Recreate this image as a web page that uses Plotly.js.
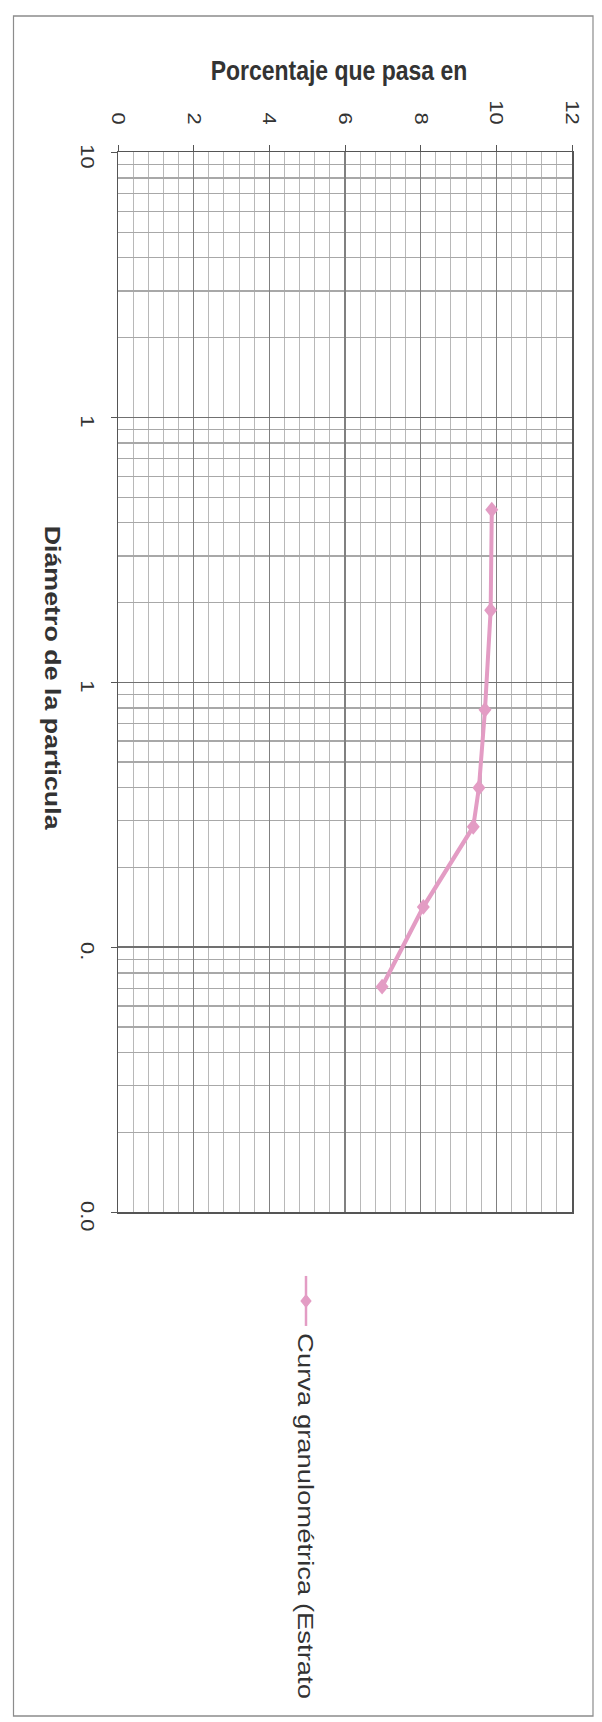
<!DOCTYPE html>
<html>
<head>
<meta charset="utf-8">
<script src="https://cdn.plot.ly/plotly-3.0.1.min.js"></script>
<style>
html,body{margin:0;padding:0;background:#ffffff;}
#wrap{width:602px;height:1722px;overflow:hidden;background:#ffffff;}
#chart{width:602px;height:1412px;transform:scaleY(1.2195);transform-origin:0 0;}
</style>
</head>
<body>
<div id="wrap"><div id="chart"></div></div>
<script>
// ---- data ----
const diameters      = [0.448, 0.187, 0.0787, 0.0400, 0.0285, 0.0142, 0.0071];
const percentPassing = [98.8, 98.5, 97.0, 95.4, 93.9, 80.7, 69.8];
const seriesName     = 'Curva granulométrica (Estrato';
const pctTickVals    = [0, 20, 40, 60, 80, 100, 120];
const pctTickText    = ['0', '2', '4', '6', '8', '10', '12'];
const diamTickVals   = [10, 1, 0.1, 0.01, 0.001];
const diamTickText   = ['10', '1', '1', '0.', '0.0'];
const xTitleText     = 'Porcentaje que pasa en';
const yTitleText     = 'Diámetro de la particula';

// ---- geometry helpers (page is scaled vertically like the scan) ----
const W = 602, H = 1412, S = 1722 / 1412;
const M = {l: 118, r: 30, t: 125, b: 418};
const PW = W - M.l - M.r, PH = H - M.t - M.b;
const px = x => (x - M.l) / PW;                 // reference x -> paper
const py = yRef => ((H - M.b) - yRef / S) / PH; // reference y -> paper

// minor log grid values (2..9 in each decade)
const minorDiam = [];
for (let k = -3; k <= 0; k++) {
  for (let m = 2; m <= 9; m++) minorDiam.push(m * Math.pow(10, k));
}

const FONT = 'Liberation Sans, Arial, Helvetica, sans-serif';
const lineColor = '#e39cc4';

const traces = [{
  type: 'scatter',
  mode: 'lines+markers',
  x: percentPassing,
  y: diameters,
  name: seriesName,
  line: {color: lineColor, width: 4},
  marker: {symbol: 'diamond', size: 10, color: lineColor},
  showlegend: false
}];

const layout = {
  width: W, height: H,
  margin: M,
  paper_bgcolor: '#ffffff',
  plot_bgcolor: '#ffffff',
  font: {family: FONT, color: '#333333'},
  showlegend: false,
  title: {
    text: '<b>' + xTitleText + '</b>',
    font: {family: FONT, size: 23, color: '#333333'},
    xref: 'container', yref: 'container',
    x: 339 / W, xanchor: 'center',
    y: 1 - (70 / S) / H, yanchor: 'middle'
  },
  xaxis: {
    side: 'top',
    range: [0, 120],
    tickmode: 'array',
    tickvals: pctTickVals,
    ticktext: pctTickText,
    tickangle: 90,
    ticks: 'outside', ticklen: 5, tickcolor: '#555555',
    ticklabelstandoff: 10,
    tickfont: {family: FONT, size: 18, color: '#333333'},
    showline: true, mirror: true, linecolor: '#555555', linewidth: 1.5,
    showgrid: true, gridcolor: '#808080', gridwidth: 1.2,
    zeroline: false,
    minor: {dtick: 4, showgrid: true, gridcolor: '#b8b8b8', gridwidth: 1, ticks: ''}
  },
  yaxis: {
    type: 'log',
    range: [-3, 1],
    tickmode: 'array',
    tickvals: diamTickVals,
    ticktext: diamTickText,
    tickangle: 90,
    ticks: 'outside', ticklen: 6, tickcolor: '#555555',
    ticklabelstandoff: 8,
    ticklabelshift: 6,
    tickfont: {family: FONT, size: 18, color: '#333333'},
    showline: true, mirror: true, linecolor: '#555555', linewidth: 1.5,
    showgrid: true, gridcolor: '#707070', gridwidth: 1.3,
    zeroline: false,
    minor: {tickmode: 'array', tickvals: minorDiam, showgrid: true, gridcolor: '#a8a8a8', gridwidth: 1, ticks: ''}
  },
  annotations: [
    {
      xref: 'paper', yref: 'paper',
      x: px(52), y: py(678),
      xanchor: 'center', yanchor: 'middle',
      text: '<b>' + yTitleText + '</b>',
      textangle: 90, showarrow: false,
      font: {family: FONT, size: 22, color: '#333333'}
    },
    {
      xref: 'paper', yref: 'paper',
      x: px(306), y: py(1516),
      xanchor: 'center', yanchor: 'middle',
      text: seriesName,
      textangle: 90, showarrow: false,
      font: {family: FONT, size: 22.5, color: '#333333'}
    }
  ],
  shapes: [
    // outer frame of the chart
    {type: 'rect', xref: 'paper', yref: 'paper',
     x0: px(13.5), x1: px(593), y0: py(16), y1: py(1716),
     line: {color: '#8c8c8c', width: 1.2}, fillcolor: 'rgba(0,0,0,0)'},
    // legend symbol: line
    {type: 'line', xref: 'paper', yref: 'paper',
     x0: px(306), x1: px(306), y0: py(1276), y1: py(1326),
     line: {color: lineColor, width: 2.5}},
    // legend symbol: diamond marker
    {type: 'path', xref: 'paper', yref: 'paper',
     xsizemode: 'pixel', ysizemode: 'pixel',
     xanchor: px(306), yanchor: py(1301),
     path: 'M0,5 L5,0 L0,-5 L-5,0 Z',
     fillcolor: lineColor, line: {color: lineColor, width: 1}}
  ]
};

Plotly.newPlot('chart', traces, layout, {staticPlot: true, displayModeBar: false});
</script>
</body>
</html>
